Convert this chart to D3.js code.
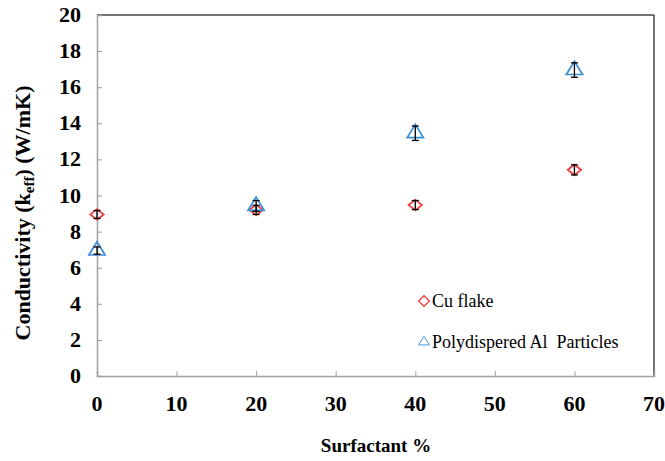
<!DOCTYPE html>
<html>
<head>
<meta charset="utf-8">
<script src="https://cdn.jsdelivr.net/npm/d3@7"></script>
<style>
  html, body { margin: 0; padding: 0; background: #fff; }
  svg { display: block; }
</style>
</head>
<body>
<svg id="chart" width="665" height="461"></svg>
<script>
// Surfactant loading (%) at each measured point
const surfactant = [0, 20, 40, 60];
// Effective conductivity, W/mK
const cuFlake = [8.95, 9.2, 9.47, 11.42];
const cuFlakeErr = [0.22, 0.25, 0.25, 0.28];
const alParticles = [6.95, 9.42, 13.45, 16.95];
const alParticlesErr = [0.2, 0.3, 0.4, 0.4];
const xTicks = [0, 10, 20, 30, 40, 50, 60, 70];
const yTicks = [0, 2, 4, 6, 8, 10, 12, 14, 16, 18, 20];
const seriesNames = ["Cu flake", "Polydispered Al  Particles"];

const svg = d3.select("#chart");
const plotLeft = 97, plotRight = 654, plotTop = 15, plotBottom = 376;

const x = d3.scaleLinear().domain([0, 70]).range([plotLeft, plotRight]);
const y = d3.scaleLinear().domain([0, 20]).range([plotBottom, plotTop]);

const serif = '"Liberation Serif", "Times New Roman", serif';

// Frame: dark top/right edges
svg.append("line").attr("x1", plotLeft).attr("x2", plotRight).attr("y1", plotTop).attr("y2", plotTop)
  .attr("stroke", "#444").attr("stroke-width", 1.5);
svg.append("line").attr("x1", plotRight).attr("x2", plotRight).attr("y1", plotTop).attr("y2", plotBottom)
  .attr("stroke", "#444").attr("stroke-width", 1.5);

// Axes with inward ticks
const xAxis = svg.append("g").attr("transform", `translate(0,${plotBottom})`)
  .call(d3.axisBottom(x).tickValues(xTicks).tickSize(-5).tickFormat(""));
const yAxis = svg.append("g").attr("transform", `translate(${plotLeft},0)`)
  .call(d3.axisLeft(y).tickValues(yTicks).tickSize(-5).tickFormat(""));
[xAxis, yAxis].forEach(g => {
  g.select(".domain").attr("stroke", "#a0a0a0").attr("stroke-width", 1.5);
  g.selectAll(".tick line").attr("stroke", "#a0a0a0").attr("stroke-width", 1);
});

// Tick labels
svg.append("g").selectAll("text").data(xTicks).join("text")
  .attr("x", d => x(d)).attr("y", 411)
  .attr("text-anchor", "middle")
  .style("font-family", serif).style("font-weight", "bold").style("font-size", "22px")
  .text(d => d);
svg.append("g").selectAll("text").data(yTicks).join("text")
  .attr("x", 81).attr("y", d => y(d) + 7)
  .attr("text-anchor", "end")
  .style("font-family", serif).style("font-weight", "bold").style("font-size", "22px")
  .text(d => d);

// Axis titles
svg.append("text").attr("x", 376).attr("y", 452)
  .attr("text-anchor", "middle")
  .style("font-family", serif).style("font-weight", "bold").style("font-size", "19px")
  .text("Surfactant %");

const yTitle = svg.append("text")
  .attr("transform", "translate(30,213) rotate(-90)")
  .attr("text-anchor", "middle")
  .style("font-family", serif).style("font-weight", "bold").style("font-size", "22px");
yTitle.append("tspan").text("Conductivity (k");
yTitle.append("tspan").style("font-size", "15px").attr("dy", 4).text("eff");
yTitle.append("tspan").attr("dy", -4).text(") (W/mK)");

// Marker definitions
const diamond = d3.symbol().type(d3.symbolDiamond2).size(72);
const triangle = d3.symbol().type(d3.symbolTriangle2).size(170);

function drawSeries(vals, color, sym, sx, sy) {
  const g = svg.append("g");
  g.selectAll("path.mark").data(vals).join("path")
    .attr("class", "mark")
    .attr("d", sym)
    .attr("transform", (d, i) => `translate(${x(surfactant[i])},${y(d)}) scale(${sx},${sy})`)
    .attr("fill", "none").attr("stroke", color).attr("stroke-width", 1.7);
  return g;
}

function drawErrors(vals, errs) {
  const g = svg.append("g").attr("stroke", "#000").attr("stroke-width", 1.3);
  vals.forEach((v, i) => {
    const cx = x(surfactant[i]);
    g.append("line").attr("x1", cx).attr("x2", cx).attr("y1", y(v - errs[i])).attr("y2", y(v + errs[i]));
    g.append("line").attr("x1", cx - 3.5).attr("x2", cx + 3.5).attr("y1", y(v - errs[i])).attr("y2", y(v - errs[i]));
    g.append("line").attr("x1", cx - 3.5).attr("x2", cx + 3.5).attr("y1", y(v + errs[i])).attr("y2", y(v + errs[i]));
  });
}

drawSeries(cuFlake, "#e8474a", diamond, 1.25, 1.0);
drawSeries(alParticles, "#3f8fd6", triangle, 1.05, 1.0);
drawErrors(cuFlake, cuFlakeErr);
drawErrors(alParticles, alParticlesErr);

// Legend
const legend = svg.append("g");
const legendRows = [
  { name: seriesNames[0], sym: diamond, color: "#e8474a", sx: 1.0, sy: 1.0, ly: 301 },
  { name: seriesNames[1], sym: triangle, color: "#3f8fd6", sx: 0.7, sy: 0.65, ly: 342 }
];
legendRows.forEach(r => {
  legend.append("path").attr("d", r.sym)
    .attr("transform", `translate(424,${r.ly}) scale(${r.sx},${r.sy})`)
    .attr("fill", "none").attr("stroke", r.color).attr("stroke-width", 1.4);
  legend.append("text").attr("x", 432).attr("y", r.ly + 6)
    .style("font-family", serif).style("font-size", "18px").attr("fill", "#000")
    .style("white-space", "pre")
    .text(r.name);
});
</script>
</body>
</html>
